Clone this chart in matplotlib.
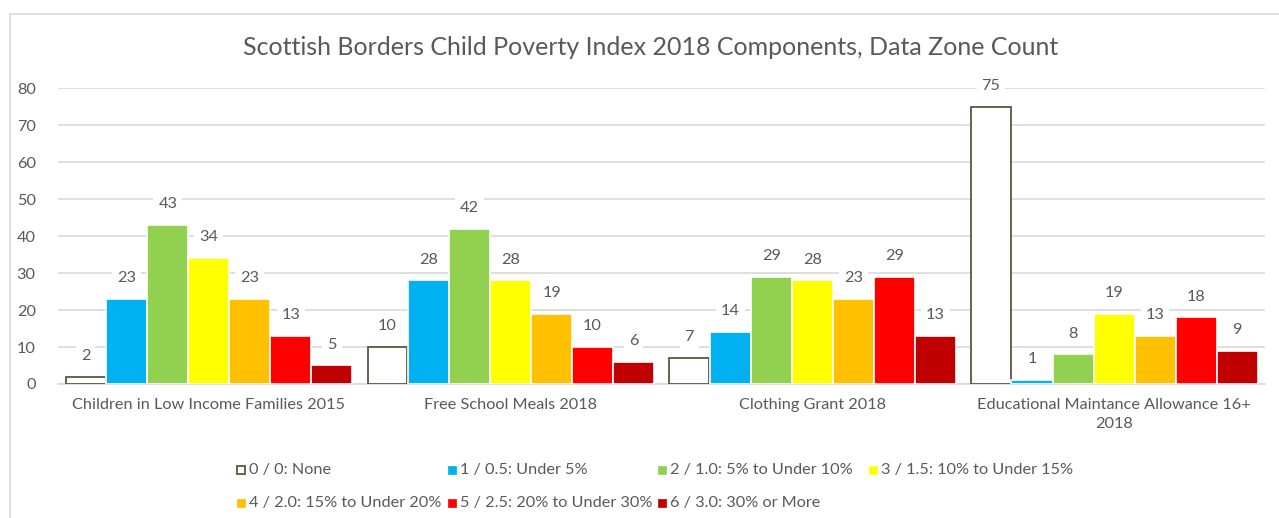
import matplotlib.pyplot as plt
import numpy as np
from matplotlib.patches import Rectangle

plt.rcParams["font.family"] = ["Lato", "DejaVu Sans"]

categories = [
    "Children in Low Income Families 2015",
    "Free School Meals 2018",
    "Clothing Grant 2018",
    "Educational Maintance Allowance 16+\n2018",
]
series_names = [
    "0 / 0: None",
    "1 / 0.5: Under 5%",
    "2 / 1.0: 5% to Under 10%",
    "3 / 1.5: 10% to Under 15%",
    "4 / 2.0: 15% to Under 20%",
    "5 / 2.5: 20% to Under 30%",
    "6 / 3.0: 30% or More",
]
values = [
    [2, 10, 7, 75],
    [23, 28, 14, 1],
    [43, 42, 29, 8],
    [34, 28, 28, 19],
    [23, 19, 23, 13],
    [13, 10, 29, 18],
    [5, 6, 13, 9],
]
colors = ["white", "#00B0F0", "#92D050", "#FFFF00", "#FFC000", "#FF0000", "#C00000"]

text_grey = "#595959"
edge_0 = "#59563F"
fs = 11.7
W, H = 1279, 518

fig = plt.figure(figsize=(W / 100, H / 100), dpi=100)
ax = fig.add_axes([0.0453, 0.2587, 0.9437, 0.5713])

x = np.arange(len(categories))
n = len(series_names)
width = 0.136
for i, (name, vals, color) in enumerate(zip(series_names, values, colors)):
    pos = x + (i - (n - 1) / 2) * width
    if i == 0:
        bars = ax.bar(pos, vals, width * 0.97, color=color, edgecolor=edge_0, linewidth=1.3, zorder=3)
    else:
        bars = ax.bar(pos, vals, width, color=color, edgecolor="white", linewidth=1.2, zorder=3)
    for b, v in zip(bars, vals):
        ax.annotate(str(v), (b.get_x() + b.get_width() / 2, v), xytext=(0, 15),
                    textcoords="offset points", ha="center", va="center",
                    fontsize=fs, color=text_grey, zorder=4,
                    bbox=dict(boxstyle="square,pad=0.3", fc="white", ec="none"))

ax.set_ylim(0, 80)
ax.set_xlim(-0.5, len(categories) - 0.5)
ax.set_yticks(range(0, 81, 10))
ax.set_xticks(x)
ax.set_xticklabels(categories, fontsize=fs, color=text_grey, linespacing=1.5)
ax.tick_params(axis="y", labelsize=fs, labelcolor=text_grey, length=0, pad=16)
ax.tick_params(axis="x", length=0, pad=10)
ax.grid(axis="y", color="#D9D9D9", linewidth=1.2, zorder=0)
for s in ["top", "right", "left"]:
    ax.spines[s].set_visible(False)
ax.spines["bottom"].set_color("#D9D9D9")
ax.spines["bottom"].set_linewidth(1.2)

fig.text(0.509, 0.909, "Scottish Borders Child Poverty Index 2018 Components, Data Zone Count",
         ha="center", va="center", fontsize=18, color=text_grey)

# legend laid out on Excel's fixed column grid (4 columns, 2 rows)
col_x = [237, 448, 658, 869]
row_y = [470, 503]
sq = 8
for i, (name, color) in enumerate(zip(series_names, colors)):
    cx = col_x[i % 4]
    cy = row_y[i // 4]
    ec = edge_0 if i == 0 else color
    fig.add_artist(Rectangle((cx / W, 1 - (cy + sq / 2) / H), sq / W, sq / H,
                             transform=fig.transFigure, facecolor=color, edgecolor=ec,
                             linewidth=1.3 if i == 0 else 0.5))
    fig.text((cx + sq + 4) / W, 1 - cy / H, name, ha="left", va="center",
             fontsize=fs, color=text_grey)

fig.add_artist(Rectangle((10 / W, -0.01), 1.0, 1 - 14 / H + 0.01, transform=fig.transFigure,
                         fill=False, edgecolor="#D9D9D9", linewidth=1.2))

fig.savefig("out.png", dpi=100)
